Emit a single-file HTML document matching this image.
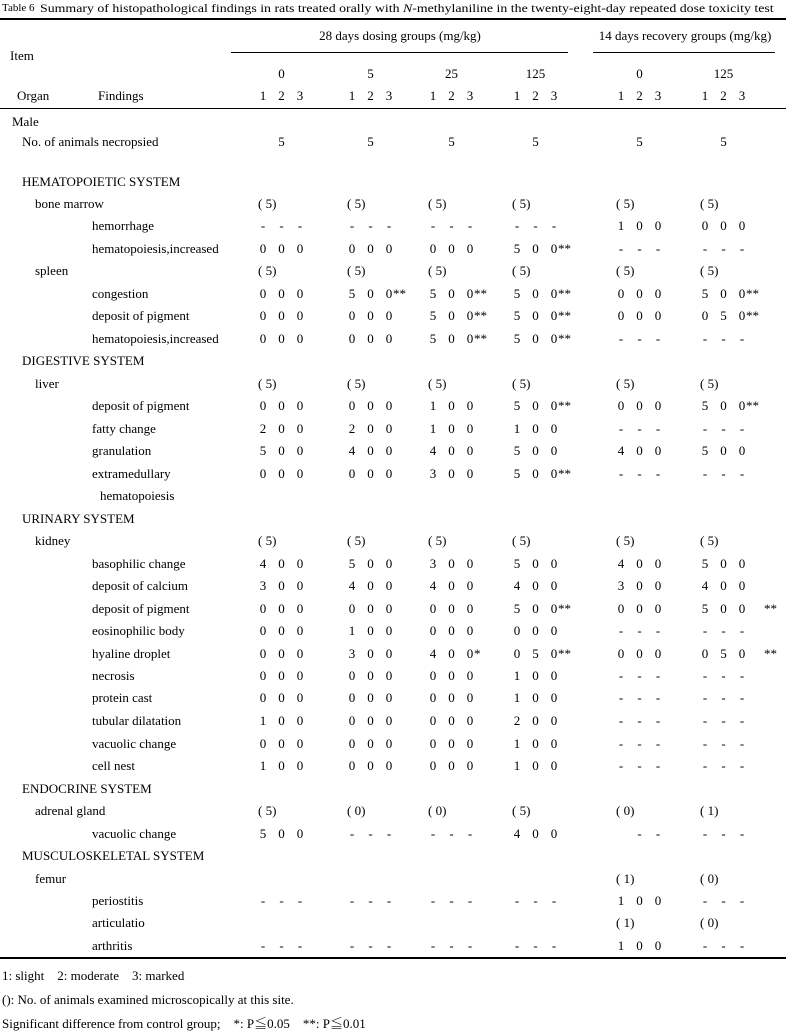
<!DOCTYPE html>
<html><head><meta charset="utf-8"><style>
body{margin:0;width:786px;height:1034px;background:#fff;position:relative;overflow:hidden;font-family:"Liberation Serif","Noto Serif CJK SC",serif;font-size:13px;color:#000}
.t{position:absolute;white-space:nowrap;line-height:14px;transform:translateY(-7px)}
.c{position:absolute;white-space:nowrap;line-height:14px;transform:translate(-50%,-7px)}
.l{position:absolute;background:#000}
</style></head><body>
<div class="t" style="left:2px;top:8px;font-size:11px">Table 6</div>
<div class="t" style="left:40px;top:8px;font-size:12px;transform:translateY(-7px) scaleX(1.155);transform-origin:left center">Summary of histopathological findings in rats treated orally with <i>N</i>-methylaniline in the twenty-eight-day repeated dose toxicity test</div>
<div class="l" style="left:0;top:18px;width:786px;height:2px"></div>
<div class="c" style="left:400px;top:36px">28 days dosing groups (mg/kg)</div>
<div class="c" style="left:685px;top:36px">14 days recovery groups (mg/kg)</div>
<div class="l" style="left:231px;top:52px;width:337px;height:1px"></div>
<div class="l" style="left:593px;top:52px;width:182px;height:1px"></div>
<div class="t" style="left:10px;top:56px">Item</div>
<div class="t" style="left:17px;top:96px">Organ</div>
<div class="t" style="left:98px;top:96px">Findings</div>
<div class="l" style="left:0;top:108px;width:786px;height:1px"></div>
<div class="l" style="left:0;top:957px;width:786px;height:2px"></div>
<div class="t" style="left:2px;top:976px">1: slight &nbsp;&nbsp;&nbsp;2: moderate &nbsp;&nbsp;&nbsp;3: marked</div>
<div class="t" style="left:2px;top:1000px">(): No. of animals examined microscopically at this site.</div>
<div class="t" style="left:2px;top:1024px">Significant difference from control group; &nbsp;&nbsp;&nbsp;*: P≦0.05 &nbsp;&nbsp;&nbsp;**: P≦0.01</div>
<div id="g"></div>
<script>
var X=[263,352,433,517,621,705],S=18.5,g=document.getElementById('g'),h='';
function t(x,y,s){h+='<div class="t" style="left:'+x+'px;top:'+y+'px">'+s+'</div>';}
function c(x,y,s){h+='<div class="c" style="left:'+x+'px;top:'+y+'px">'+s+'</div>';}
['0','5','25','125','0','125'].forEach(function(d,i){c(X[i]+S,74,d);for(var k=0;k<3;k++)c(X[i]+k*S,96,k+1);});
var R=[
[122,12,'Male'],
[142,22,'No. of animals necropsied','N5,N5,N5,N5,N5,N5'],
[182,22,'HEMATOPOIETIC SYSTEM'],
[204,35,'bone marrow','P5,P5,P5,P5,P5,P5'],
[226,92,'hemorrhage','---,---,---,---,100,000'],
[249,92,'hematopoiesis,increased','000,000,000,500**,---,---'],
[271,35,'spleen','P5,P5,P5,P5,P5,P5'],
[294,92,'congestion','000,500**,500**,500**,000,500**'],
[316,92,'deposit of pigment','000,000,500**,500**,000,050**'],
[339,92,'hematopoiesis,increased','000,000,500**,500**,---,---'],
[361,22,'DIGESTIVE SYSTEM'],
[384,35,'liver','P5,P5,P5,P5,P5,P5'],
[406,92,'deposit of pigment','000,000,100,500**,000,500**'],
[429,92,'fatty change','200,200,100,100,---,---'],
[451,92,'granulation','500,400,400,500,400,500'],
[474,92,'extramedullary','000,000,300,500**,---,---'],
[496,100,'hematopoiesis'],
[519,22,'URINARY SYSTEM'],
[541,35,'kidney','P5,P5,P5,P5,P5,P5'],
[564,92,'basophilic change','400,500,300,500,400,500'],
[586,92,'deposit of calcium','300,400,400,400,300,400'],
[609,92,'deposit of pigment','000,000,000,500**,000,500W'],
[631,92,'eosinophilic body','000,100,000,000,---,---'],
[654,92,'hyaline droplet','000,300,400*,050**,000,050W'],
[676,92,'necrosis','000,000,000,100,---,---'],
[698,92,'protein cast','000,000,000,100,---,---'],
[721,92,'tubular dilatation','100,000,000,200,---,---'],
[744,92,'vacuolic change','000,000,000,100,---,---'],
[766,92,'cell nest','100,000,000,100,---,---'],
[789,22,'ENDOCRINE SYSTEM'],
[811,35,'adrenal gland','P5,P0,P0,P5,P0,P1'],
[834,92,'vacuolic change','500,---,---,400,x--,---'],
[856,22,'MUSCULOSKELETAL SYSTEM'],
[879,35,'femur',',,,,P1,P0'],
[901,92,'periostitis','---,---,---,---,100,---'],
[923,92,'articulatio',',,,,P1,P0'],
[946,92,'arthritis','---,---,---,---,100,---']
];
R.forEach(function(r){t(r[1],r[0],r[2]);if(!r[3])return;r[3].split(',').forEach(function(v,i){
 if(!v)return;var x=X[i];
 if(v[0]=='N'){c(x+S,r[0],v.slice(1));return;}
 if(v[0]=='P'){t(x-5,r[0],'( '+v.slice(1)+')');return;}
 for(var k=0;k<3;k++){var ch=v[k];if(ch=='x')continue;c(x+k*S,r[0],ch);}
 var st=v.slice(3);
 if(st=='W')t(x+2*S+22,r[0],'**');else if(st)t(x+2*S+4,r[0],st);
});});
g.innerHTML=h;
</script>
</body></html>
